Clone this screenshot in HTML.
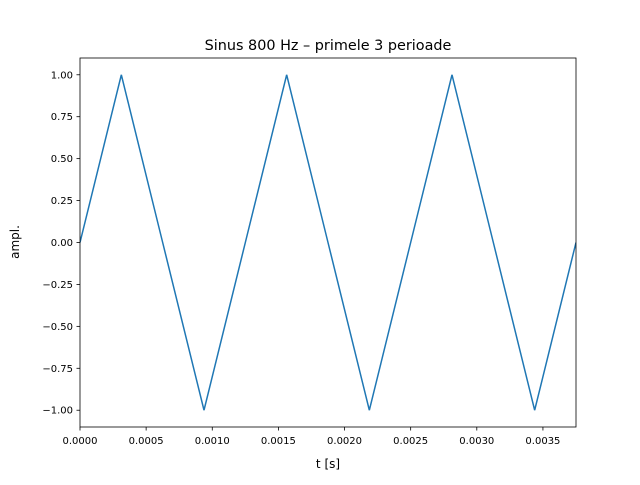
<!DOCTYPE html>
<html><head><meta charset="utf-8"><style>
body{margin:0;background:#fff;}
svg{font-family:"DejaVu Sans","Liberation Sans",sans-serif;}
</style></head><body>
<svg id="chart" width="640" height="480" xmlns="http://www.w3.org/2000/svg">
<rect width="640" height="480" fill="#fff"/>
<text x="328" y="50" font-size="14.4" text-anchor="middle">Sinus 800 Hz – primele 3 perioade</text>
<g id="plot"></g>
<text x="328" y="468" font-size="12" text-anchor="middle">t [s]</text>
<text x="0" y="0" font-size="12" text-anchor="middle" transform="translate(19,242) rotate(-90)">ampl.</text>
</svg>
<script>
const times = [0,0.0003125,0.000625,0.0009375,0.00125,0.0015625,0.001875,0.0021875,0.0025,0.0028125,0.003125,0.0034375,0.00375];
const amplitudes = [0,1,0,-1,0,1,0,-1,0,1,0,-1,0];
const xTicks = [0,0.0005,0.001,0.0015,0.002,0.0025,0.003,0.0035];
const xTickLabels = ["0.0000","0.0005","0.0010","0.0015","0.0020","0.0025","0.0030","0.0035"];
const yTicks = [-1,-0.75,-0.5,-0.25,0,0.25,0.5,0.75,1];
const yTickLabels = ["−1.00","−0.75","−0.50","−0.25","0.00","0.25","0.50","0.75","1.00"];
const L=80,R=576,T=58,B=427, xmin=0,xmax=0.00375,ymin=-1.1,ymax=1.1;
const sx=v=>L+(v-xmin)/(xmax-xmin)*(R-L);
const sy=v=>B-(v-ymin)/(ymax-ymin)*(B-T);
const NS="http://www.w3.org/2000/svg";
const g=document.getElementById('plot');
function mk(tag,attrs){const e=document.createElementNS(NS,tag);for(const k in attrs)e.setAttribute(k,attrs[k]);g.appendChild(e);return e;}
const clip=document.createElementNS(NS,'clipPath');clip.setAttribute('id','c');
const cr=document.createElementNS(NS,'rect');cr.setAttribute('x',L);cr.setAttribute('y',T);cr.setAttribute('width',R-L);cr.setAttribute('height',B-T);clip.appendChild(cr);g.appendChild(clip);
const line=mk('polyline',{points:times.map((t,i)=>sx(t)+','+sy(amplitudes[i])).join(' '),fill:'none',stroke:'#1f77b4','stroke-width':1.5,'clip-path':'url(#c)'});


xTicks.forEach((v,i)=>{const x=sx(v);
 const t=mk('line',{x1:x,x2:x,y1:B,y2:B+3.5,stroke:'#000','stroke-width':0.8});
 
 
 const l=mk('text',{x:x,y:B+17,'font-size':10,'text-anchor':'middle'});l.textContent=xTickLabels[i];
 
 });
yTicks.forEach((v,i)=>{const y=sy(v);
 const t=mk('line',{x1:L-3.5,x2:L,y1:y,y2:y,stroke:'#000','stroke-width':0.8});
 
 
 const l=mk('text',{x:L-7,y:y+3.5,'font-size':10,'text-anchor':'end'});l.textContent=yTickLabels[i];
 
 });
const fr=mk('rect',{x:L,y:T,width:R-L,height:B-T,fill:'none',stroke:'#000','stroke-width':0.8});


</script>
</body></html>
